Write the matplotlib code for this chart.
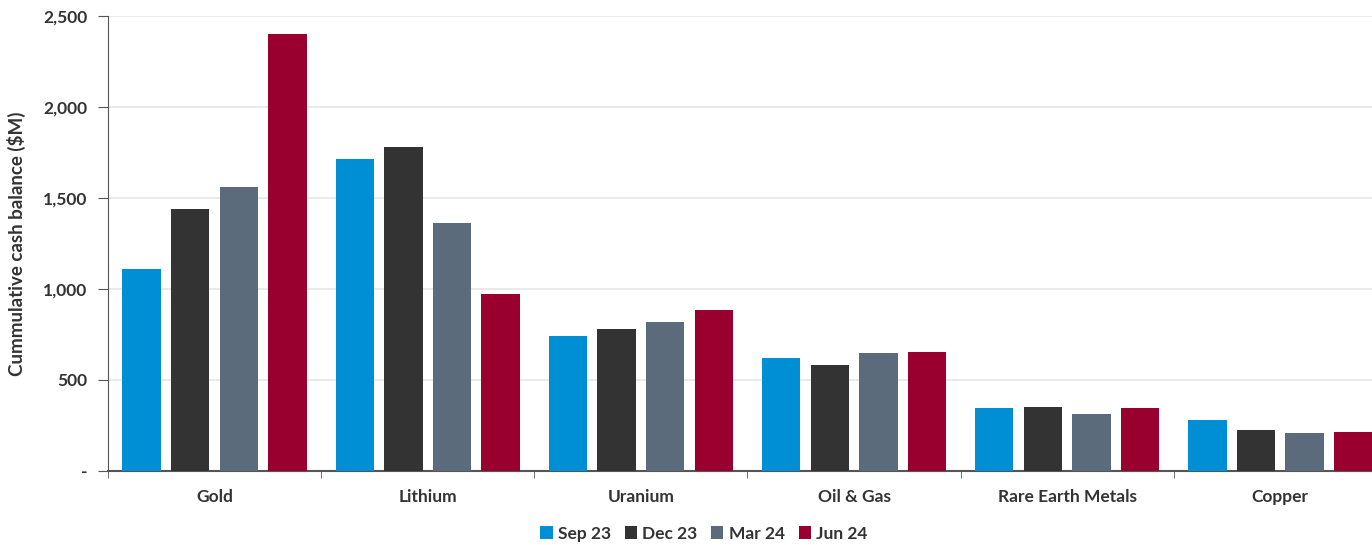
import matplotlib.pyplot as plt
import numpy as np
from matplotlib.ticker import FuncFormatter

plt.rcParams["font.family"] = ["Lato", "DejaVu Sans"]

categories = ["Gold", "Lithium", "Uranium", "Oil & Gas", "Rare Earth Metals", "Copper"]
series_names = ["Sep 23", "Dec 23", "Mar 24", "Jun 24"]
sep23 = [1110, 1715, 742, 621, 348, 280]
dec23 = [1440, 1780, 780, 582, 352, 225]
mar24 = [1560, 1363, 819, 648, 313, 209]
jun24 = [2400, 973, 887, 654, 346, 214]
colors = ["#008fd5", "#333333", "#5b6b7c", "#99002f"]

TEXT = "#333333"


def fmt_y(v, pos):
    if v == 0:
        return "-"
    return f"{v:,.0f}"


def main():
    fig = plt.figure(figsize=(13.72, 5.45), dpi=100)
    ax = fig.add_axes([0.0787, 0.1358, 0.9213, 0.8348])

    x = np.arange(len(categories))
    step = 0.228
    width = 0.18
    for i, (name, vals) in enumerate(zip(series_names, [sep23, dec23, mar24, jun24])):
        ax.bar(x + (i - 1.5) * step, vals, width, color=colors[i], label=name, zorder=3)

    ax.set_yticks([0, 500, 1000, 1500, 2000, 2500])
    ax.yaxis.set_major_formatter(FuncFormatter(fmt_y))
    ax.grid(axis="y", color="#e6e6e6", linewidth=1.2, zorder=0)

    # category labels in the middle, small ticks on the boundaries
    ax.set_xticks(x)
    ax.set_xticklabels(categories)
    ax.set_xticks(np.arange(len(categories)) - 0.5, minor=True)
    ax.set_xlim(-0.5, 5.43)
    ax.set_ylim(0, 2500)
    ax.tick_params(axis="x", which="major", length=0, pad=13, labelsize=12.5, labelcolor=TEXT)
    ax.tick_params(axis="x", which="minor", length=5, color="#555555", direction="out")
    ax.tick_params(axis="y", length=7, color="#555555", labelsize=12.5, labelcolor=TEXT, pad=8)
    for lab in ax.get_xticklabels() + ax.get_yticklabels():
        lab.set_fontweight("bold")

    for s in ["top", "right"]:
        ax.spines[s].set_visible(False)
    ax.spines["left"].set_color("#555555")
    ax.spines["bottom"].set_color("#555555")
    ax.spines["bottom"].set_linewidth(1.5)

    ax.set_ylabel("Cummulative cash balance ($M)", fontsize=13.5, fontweight="bold",
                  color=TEXT, labelpad=12)

    fig.legend(loc="center", bbox_to_anchor=(0.513, 0.021), bbox_transform=fig.transFigure,
               ncol=4, frameon=False, handlelength=0.7, handleheight=0.7, handletextpad=0.3,
               columnspacing=0.8, prop={"size": 12.5, "weight": "bold"},
               labelcolor=TEXT)

    fig.savefig("out.png", dpi=100)
    plt.close(fig)


if __name__ == "__main__":
    main()
